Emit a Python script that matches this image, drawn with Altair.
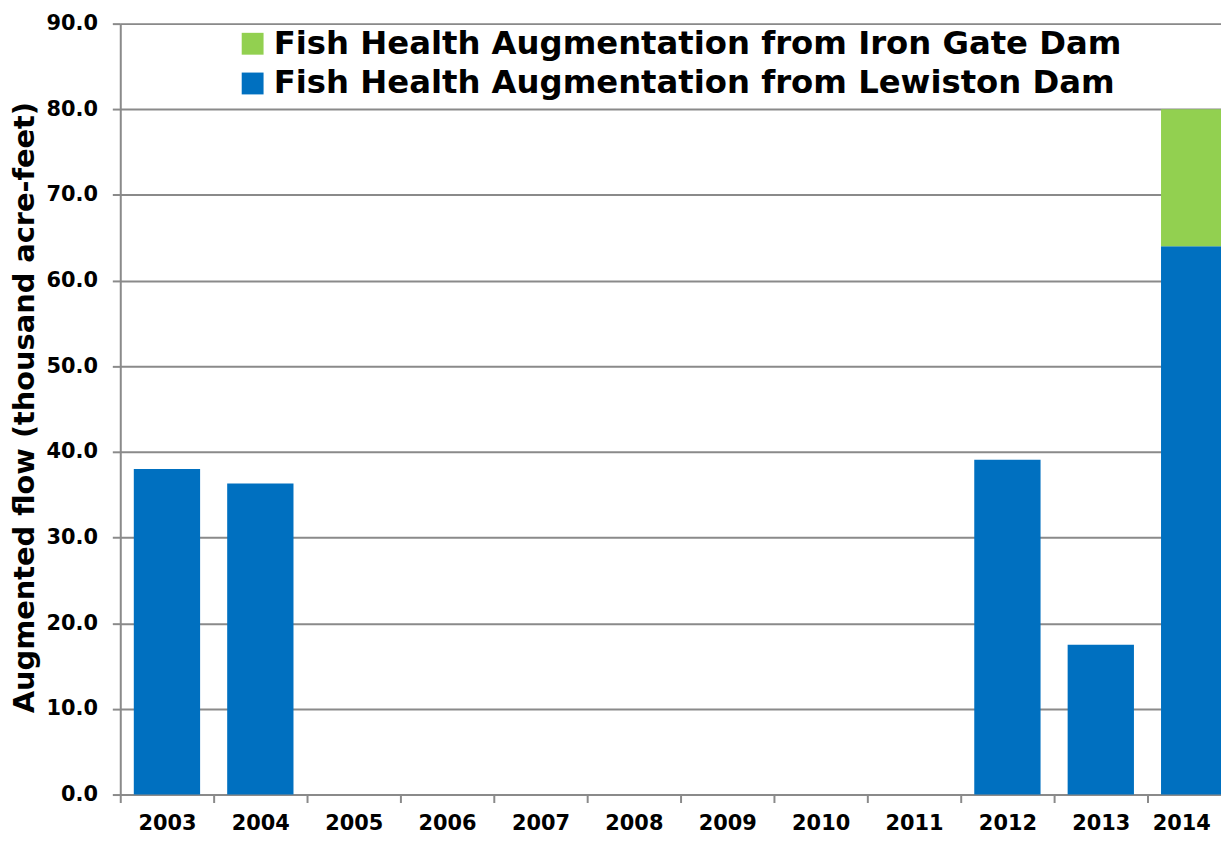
import altair as alt
import pandas as pd

years = ["2003", "2004", "2005", "2006", "2007", "2008", "2009", "2010", "2011", "2012", "2013", "2014"]
lewiston = [38.0, 36.3, 0, 0, 0, 0, 0, 0, 0, 39.1, 17.5, 64.0]
iron_gate = [0, 0, 0, 0, 0, 0, 0, 0, 0, 0, 0, 16.0]

S_IG = "Fish Health Augmentation from Iron Gate Dam"
S_LW = "Fish Health Augmentation from Lewiston Dam"
series = [S_IG, S_LW]
colors = ["#92D050", "#0070C0"]

rows = []
for y, lw, ig in zip(years, lewiston, iron_gate):
    rows.append({"year": y, "series": S_LW, "value": lw, "ord": 0})
    rows.append({"year": y, "series": S_IG, "value": ig, "ord": 1})
df = pd.DataFrame(rows)
df = df[df["value"] > 0]

FONT = "DejaVu Sans"

chart = alt.Chart(df).mark_bar(width={"band": 0.71}).encode(
    x=alt.X("year:N", sort=years,
            scale=alt.Scale(domain=years, range=[0, 1128], paddingInner=0, paddingOuter=0),
            axis=alt.Axis(title=None, labelAngle=0, labelFont=FONT, labelFontSize=21,
                          labelFontWeight="bold", labelColor="black", labelPadding=10,
                          labelOffset={"expr": "datum.value == '2014' ? -13 : 0"},
                          tickBand="extent", tickSize=8, tickColor="#8a8a8a", tickWidth=2,
                          domainColor="#8a8a8a", domainWidth=2, grid=False)),
    y=alt.Y("value:Q", stack="zero",
            scale=alt.Scale(domain=[0, 90], nice=False),
            axis=alt.Axis(title="Augmented flow (thousand acre-feet)", values=list(range(0, 91, 10)),
                          format=".1f", labelFont=FONT, labelFontSize=21, labelFontWeight="bold",
                          labelColor="black", labelPadding=15, tickSize=8, tickColor="#8a8a8a",
                          tickWidth=2, domainColor="#8a8a8a", domainWidth=2,
                          gridColor="#8a8a8a", gridWidth=2,
                          titleFont=FONT, titleFontSize=29, titleFontWeight="bold", titleColor="black",
                          titleAngle=-90, titleX=-96, titleY=386, titleAlign="center",
                          titleBaseline="middle")),
    color=alt.Color("series:N", scale=alt.Scale(domain=series, range=colors),
                    legend=alt.Legend(title=None, orient="none", legendX=117, legendY=4,
                                      symbolType="square", symbolSize=484, symbolStrokeWidth=0,
                                      symbolOpacity=1,
                                      labelFont=FONT, labelFontSize=32.5, labelFontWeight="bold",
                                      labelColor="black", labelOffset=5, rowPadding=7,
                                      labelLimit=0, padding=0)),
    order=alt.Order("ord:Q"),
).properties(
    width=1108, height=776,
    autosize=alt.AutoSizeParams(type="none"),
    padding={"left": 113, "top": 13, "right": 0, "bottom": 40},
).configure_view(stroke=None).configure(background="white")

chart.save("out.html", embed_options={"renderer": "svg", "actions": False})
